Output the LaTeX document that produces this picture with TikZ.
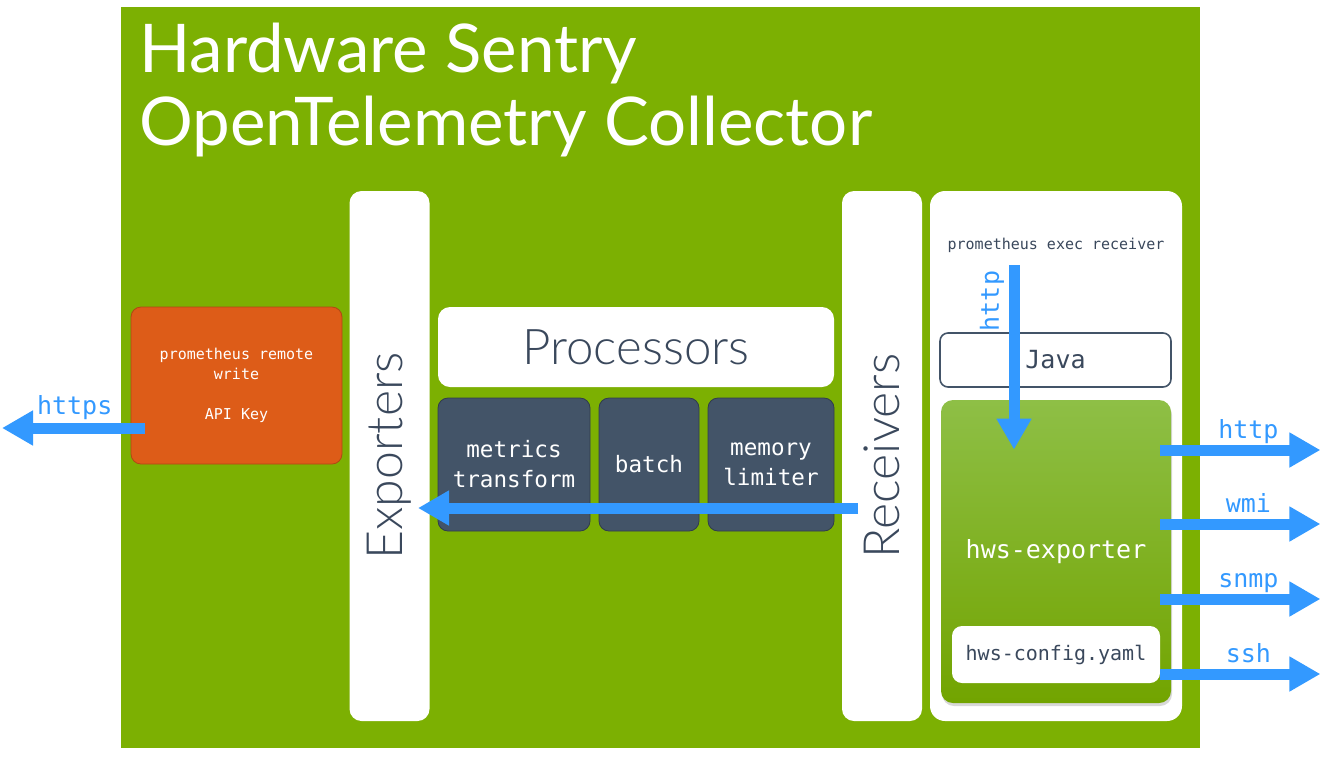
\documentclass[tikz,border=0pt]{standalone}
\usepackage{fontspec}
\setmainfont{Lato}
\setmonofont{DejaVu Sans Mono}
\newfontfamily\lightfont{Lato Light}
\usetikzlibrary{positioning,arrows.meta,calc,shadows}
\definecolor{hwsgreen}{RGB}{124,176,2}
\definecolor{hwslight}{RGB}{142,191,70}
\definecolor{hwsdark}{RGB}{114,164,0}
\definecolor{slate}{RGB}{67,84,104}
\definecolor{slateedge}{RGB}{48,60,76}
\definecolor{inktext}{RGB}{58,72,92}
\definecolor{remorange}{RGB}{221,92,24}
\definecolor{remedge}{RGB}{176,72,20}
\definecolor{flowblue}{RGB}{51,153,255}

\begin{document}
\begin{tikzpicture}[x=0.5pt, y=-0.5pt,
  bar/.style={fill=white, rounded corners=6pt, rotate=90,
    minimum width=265pt, minimum height=40pt, text=inktext,
    font=\lightfont\fontsize{25}{28}\selectfont},
  procbox/.style={draw=slateedge, fill=slate, rounded corners=5pt,
    minimum height=66.5pt, align=center, text=white,
    font=\ttfamily\fontsize{11.3}{15}\selectfont},
  whitebox/.style={fill=white, rounded corners=5pt, text=inktext,
    font=\ttfamily\fontsize{10}{12}\selectfont},
  bluearr/.style={draw=flowblue, line width=5.5pt,
    -{Triangle[length=15.5pt, width=16.5pt]}},
  bluelabel/.style={text=flowblue, font=\ttfamily\fontsize{12.5}{14}\selectfont},
  titletext/.style={anchor=base west, inner sep=0pt, text=white,
    font=\fontsize{33.6}{36}\selectfont}
]
\useasboundingbox (0,0) rectangle (1321,756);

% Collector frame and title
\node[fill=hwsgreen, minimum width=539.5pt, minimum height=370.5pt]
  (collector) at (660.5,377.5) {};
\node[titletext] (title) at (139,72) {Hardware Sentry};
\node[titletext] (subtitle) at (139,145) {OpenTelemetry Collector};

% Exporter side
\node[draw=remedge, fill=remorange, rounded corners=5pt, text=white,
  minimum width=105.5pt, minimum height=78.5pt, align=center,
  font=\ttfamily\fontsize{7.5}{10}\selectfont]
  (remote) at (236.5,385.5) {prometheus remote\\write\\[10pt]API Key};
\node[bar] (exporters) at (389.5,456) {Exporters};

% Processors
\node[fill=white, rounded corners=6pt, minimum width=198pt, minimum height=40pt,
  text=inktext, font=\lightfont\fontsize{24.6}{28}\selectfont]
  (processors) at (636,347) {Processors};
\node[procbox, minimum width=76pt] (metrics) at (514,464.5) {metrics\\transform};
\node[procbox, minimum width=50pt] (batch) at (649,464.5) {batch};
\node[procbox, minimum width=63pt] (memory) at (771,464.5) {memory\\limiter};

% Receiver side
\node[bar] (receivers) at (882,456) {Receivers};
\node[fill=white, rounded corners=7.5pt, minimum width=126pt, minimum height=265pt]
  (recvpanel) at (1056,456) {};
\node[text=inktext, font=\ttfamily\fontsize{7.5}{9}\selectfont]
  (execlabel) at (1056,245) {prometheus exec receiver};
\node[draw=slate, line width=0.8pt, fill=white, rounded corners=4pt,
  minimum width=115.5pt, minimum height=27pt, text=inktext,
  font=\ttfamily\fontsize{12.5}{14}\selectfont]
  (java) at (1055.5,360) {Java};
\node[rounded corners=6pt, top color=hwslight, middle color=hwsgreen,
  bottom color=hwsdark, drop shadow={opacity=0.3, shadow xshift=0.5pt,
  shadow yshift=-1.5pt}, minimum width=115pt, minimum height=151.5pt,
  text=white, font=\ttfamily\fontsize{12.5}{14}\selectfont]
  (hws) at (1056,551.5) {hws-exporter};
\node[whitebox, minimum width=104pt, minimum height=28.5pt]
  (config) at (1056,654.5) {hws-config.yaml};

% Data flow
\coordinate (execin) at (1014,265);
\draw[bluearr] (execin) -- ($(hws.north)+(-42,50)$);
\node[bluelabel, rotate=90] (httpin) at (992,301) {http};
\draw[bluearr] ($(receivers.center)+(-24,52)$) -- ($(exporters.center)+(28.5,52)$);
\coordinate (outleft) at (2,428);
\draw[bluearr] ($(remote.west)+(14,42.5)$) -- (outleft)
  node[bluelabel, pos=0.49, anchor=base, yshift=7pt] {https};
\foreach \proto/\dy in {http/-101.5, wmi/-27.5, snmp/47.5, ssh/122.5}
  \draw[bluearr] ($(hws.east)+(-11,\dy)$) -- ++(160,0)
    node[bluelabel, pos=0.55, anchor=base, yshift=6pt] {\proto};

\end{tikzpicture}
\end{document}
